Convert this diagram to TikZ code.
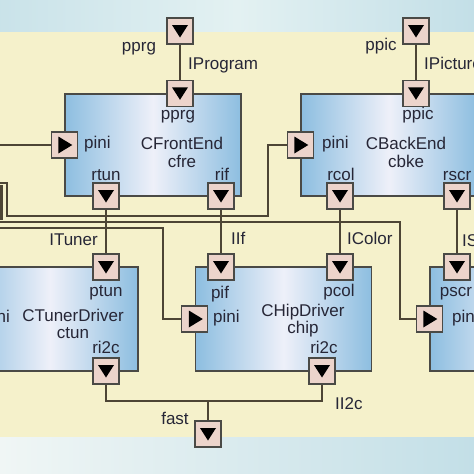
\documentclass[tikz,border=0pt]{standalone}
\usepackage{fontspec}
\setsansfont{Liberation Sans}
\usepackage{tikz}
\usetikzlibrary{shapes,arrows}
\usetikzlibrary{arrows,calc,positioning}
\definecolor{bgyellow}{HTML}{F5F1CB}
\definecolor{bandblue}{HTML}{C3DFE7}
\definecolor{bandmid}{HTML}{E3F1F2}
\definecolor{bandlight}{HTML}{F0F6F5}
\definecolor{boxblue}{HTML}{8DBEE0}
\definecolor{boxlight}{HTML}{EEF0F9}
\definecolor{portfill}{HTML}{ECD4CB}
\definecolor{edgegray}{HTML}{4A4A46}
\definecolor{wirebrown}{HTML}{4D4535}
\definecolor{textnavy}{HTML}{262636}
\tikzset{
    compblock/.style = {draw=edgegray, line width=1.4pt, rectangle, minimum width=176pt, minimum height=102pt, left color=boxblue, right color=boxblue, middle color=boxlight},
    port/.style = {draw=edgegray, line width=1.3pt, fill=portfill, rectangle, minimum size=26pt, inner sep=0pt},
    portdown/.style = {port, path picture={\fill[black, shift={(path picture bounding box.center)}] (-8pt,6pt) -- (8pt,6pt) -- (0pt,-6.5pt) -- cycle;}},
    portright/.style = {port, path picture={\fill[black, shift={(path picture bounding box.center)}] (-6pt,8.5pt) -- (-6pt,-8.5pt) -- (8pt,0pt) -- cycle;}},
    lbl/.style = {text=textnavy, font=\sffamily\fontsize{17}{19}\selectfont, inner sep=0pt, anchor=base},
    wire/.style = {draw=wirebrown, line width=1.3pt},
}
\begin{document}
\begin{tikzpicture}[x=1pt, y=-1pt]
    \clip (0,0) rectangle (474,474);
    \fill [bgyellow] (0,0) rectangle (474,474);
    \shade [left color=bandblue!80!bandmid, right color=bandblue, middle color=bandmid] (0,0) rectangle (474,31);
    \shade [left color=bandlight, right color=bandblue] (0,437) rectangle (474,474);

    % components
    \node [compblock] (cfre) at (153,145) {};
    \node [compblock] (cbke) at (389,145) {};
    \node [compblock, minimum height=104pt] (ctun) at (50,319) {};
    \node [compblock, minimum height=104pt] (chip) at (283.5,319) {};
    \node [compblock, minimum height=104pt] (cscr) at (518,319) {};

    % ports
    \node [portdown] (xpprg) at (180,31) {};
    \node [portdown] (xppic) at (416,31) {};
    \node [portdown] (cfre-pprg) at (cfre.north -| xpprg) {};
    \node [portright] (cfre-pini) at (cfre.west) {};
    \node [portdown] (cfre-rtun) at (106,196) {};
    \node [portdown] (cfre-rif) at (221,196) {};
    \node [portdown] (cbke-ppic) at (cbke.north -| xppic) {};
    \node [portright] (cbke-pini) at (cbke.west) {};
    \node [portdown] (cbke-rcol) at (340,196) {};
    \node [portdown] (cbke-rscr) at (457,196) {};
    \node [portdown] (ctun-ptun) at (106,267) {};
    \node [portdown] (ctun-ri2c) at (106,371) {};
    \node [portdown] (chip-pif) at (221,267) {};
    \node [portdown] (chip-pcol) at (340,267) {};
    \node [portright] (chip-pini) at (chip.west) {};
    \node [portdown] (chip-ri2c) at (322,371) {};
    \node [portdown] (cscr-pscr) at (457,267) {};
    \node [portright] (cscr-pini) at (cscr.west) {};
    \node [portdown] (xfast) at (208,434) {};

    % connections
    \coordinate (feedA) at (0,145);
    \coordinate (feedB) at (0,183);
    \coordinate (feedC) at (0,222);
    \coordinate (feedD) at (0,228);
    \coordinate (bus) at (208,401);
    \draw [wire] (xpprg) -- (cfre-pprg);
    \draw [wire] (xppic) -- (cbke-ppic);
    \draw [wire] (cfre-rtun) -- (ctun-ptun);
    \draw [wire] (cfre-rif) -- (chip-pif);
    \draw [wire] (cbke-rcol) -- (chip-pcol);
    \draw [wire] (cbke-rscr) -- (cscr-pscr);
    \draw [wire] (feedA) -- (cfre-pini);
    \draw [wire] (feedB) -- ++(7,0) |- (268,216) |- (cbke-pini);
    \draw [wire, line width=3pt] (1,185) -- (1,220);
    \draw [wire] (feedC) -- (400,222) |- (cscr-pini);
    \draw [wire] (feedD) -- (163,228) |- (chip-pini);
    \draw [wire] (ctun-ri2c) |- (bus) -| (chip-ri2c);
    \draw [wire] (bus) -- (xfast);

    % texts
    \node [lbl] at (139,51.5) {pprg};
    \node [lbl, anchor=base west] at (188,69) {IProgram};
    \node [lbl] at (178,119.5) {pprg};
    \node [lbl, anchor=base west] at (84,148.5) {pini};
    \node [lbl] at (182,149) {CFrontEnd};
    \node [lbl] at (182,167) {cfre};
    \node [lbl] at (106,180) {rtun};
    \node [lbl] at (222,180) {rif};
    \node [lbl] at (381,50) {ppic};
    \node [lbl, anchor=base west] at (424,69) {IPicture};
    \node [lbl] at (418,119.5) {ppic};
    \node [lbl, anchor=base west] at (322,148) {pini};
    \node [lbl] at (406,149.5) {CBackEnd};
    \node [lbl] at (406,167) {cbke};
    \node [lbl] at (341,180) {rcol};
    \node [lbl] at (457,180) {rscr};
    \node [lbl, anchor=base east] at (98,245) {ITuner};
    \node [lbl, anchor=base west] at (231,244) {IIf};
    \node [lbl, anchor=base west] at (347,244) {IColor};
    \node [lbl, anchor=base west] at (462,246) {IScreen};
    \node [lbl] at (106,296) {ptun};
    \node [lbl, anchor=base east] at (10,322) {pini};
    \node [lbl] at (73,321) {CTunerDriver};
    \node [lbl] at (73,338) {ctun};
    \node [lbl] at (106,353) {ri2c};
    \node [lbl] at (220,298) {pif};
    \node [lbl, anchor=base west] at (213,322) {pini};
    \node [lbl] at (339,296) {pcol};
    \node [lbl] at (303,316.5) {CHipDriver};
    \node [lbl] at (303,333) {chip};
    \node [lbl] at (324,353) {ri2c};
    \node [lbl] at (456,296) {pscr};
    \node [lbl, anchor=base west] at (452,322) {pini};
    \node [lbl] at (175,424) {fast};
    \node [lbl, anchor=base west] at (335,409) {II2c};
\end{tikzpicture}
\end{document}
